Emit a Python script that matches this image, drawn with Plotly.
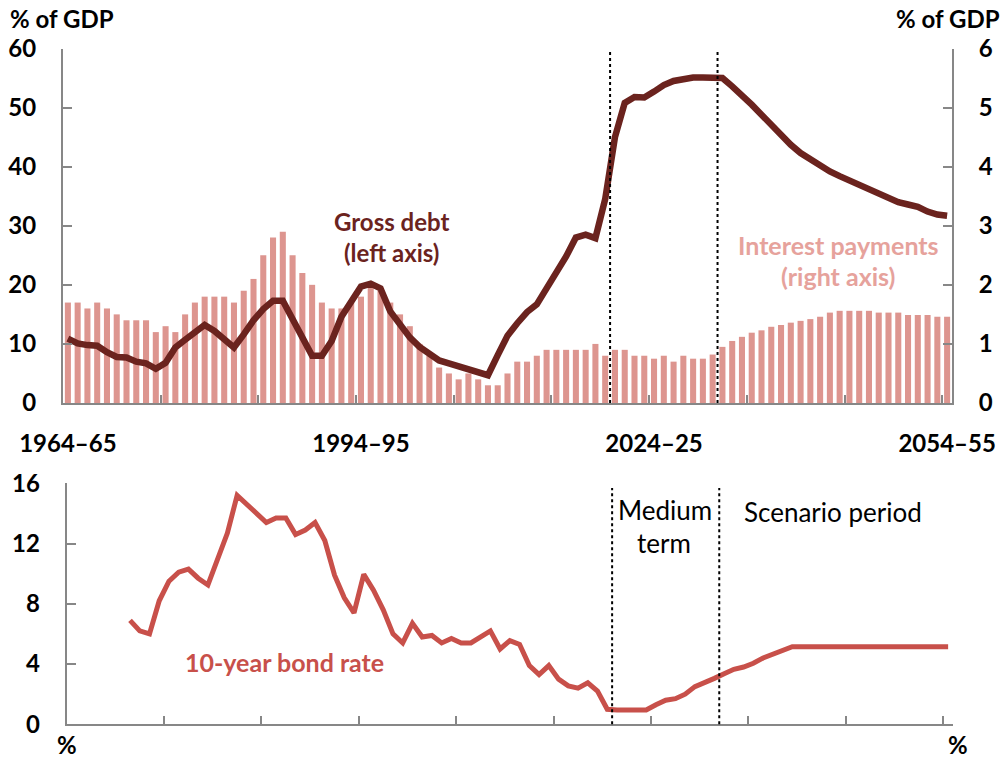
import plotly.graph_objects as go

# ---------------- data ----------------
years = list(range(1964, 2055))
categories = [f"{y}\u2013{(y + 1) % 100:02d}" for y in years]

interest_payments = [
    1.7, 1.7, 1.6, 1.7, 1.6, 1.5, 1.4, 1.4, 1.4, 1.2,
    1.3, 1.2, 1.5, 1.7, 1.8, 1.8, 1.8, 1.7, 1.9, 2.1,
    2.5, 2.8, 2.9, 2.5, 2.2, 2.0, 1.7, 1.6, 1.6, 1.7,
    1.8, 1.95, 1.9, 1.7, 1.5, 1.3, 1.0, 0.8, 0.6, 0.5,
    0.4, 0.5, 0.4, 0.3, 0.3, 0.5, 0.7, 0.7, 0.8, 0.9,
    0.9, 0.9, 0.9, 0.9, 1.0, 0.8, 0.9, 0.9, 0.8, 0.8,
    0.75, 0.8, 0.7, 0.8, 0.75, 0.75, 0.82, 0.95, 1.05, 1.12,
    1.19, 1.23, 1.29, 1.32, 1.36, 1.39, 1.42, 1.46, 1.53, 1.56,
    1.56, 1.56, 1.56, 1.53, 1.53, 1.53, 1.49, 1.49, 1.49, 1.46,
    1.46,
]

gross_debt = [
    10.9, 10.1, 9.8, 9.7, 8.6, 7.8, 7.7, 7.0, 6.7, 5.8,
    6.8, 9.4, 10.7, 12.0, 13.2, 12.2, 10.9, 9.4, 11.6, 14.0,
    15.9, 17.3, 17.3, 14.0, 10.8, 8.0, 8.0, 10.5, 14.6, 17.4,
    19.7, 20.2, 19.4, 15.5, 13.4, 11.1, 9.5, 8.5, 7.2, 6.7,
    6.2, 5.6, 5.2, 4.7, 8.1, 11.4, 13.5, 15.4, 16.7, 19.3,
    22.0, 24.8, 28.0, 28.5, 27.9, 34.5, 45.0, 50.8, 51.8, 51.7,
    52.7, 53.8, 54.5, 54.9, 55.1, 55.1, 55.1, 55.0, 53.6, 52.2,
    50.5, 48.8, 47.1, 45.3, 43.7, 42.3, 41.2, 40.2, 39.2, 38.4,
    37.7, 36.9, 36.1, 35.5, 34.8, 34.0, 33.6, 33.2, 32.4, 31.9,
    31.7,
]

bond_rate = [
    None, None, None, None, None, None, 6.9, 6.2, 6.0, 8.2,
    9.5, 10.1, 10.3, 9.7, 9.25, 10.9, 12.7, 15.2, 14.6, 13.9,
    13.4, 13.7, 13.7, 12.6, 12.9, 13.4, 12.2, 9.9, 8.4, 7.4,
    9.95, 8.9, 7.6, 6.0, 5.4, 6.7, 5.8, 5.9, 5.4, 5.7,
    5.4, 5.4, 5.8, 6.2, 5.0, 5.55, 5.3, 3.9, 3.3, 3.9,
    3.0, 2.55, 2.4, 2.75, 2.2, 1.0, 0.95, 0.95, 0.95, 0.95,
    1.3, 1.6, 1.7, 2.0, 2.5, 2.75, 3.05, 3.35, 3.65, 3.8,
    4.05, 4.4, 4.65, 4.95, 5.15, 5.15, 5.15, 5.15, 5.15, 5.15,
    5.15, 5.15, 5.15, 5.15, 5.15, 5.15, 5.15, 5.15, 5.15, 5.15,
    5.15,
]

labelled_categories = ["1964\u201365", "1994\u201395", "2024\u201325", "2054\u201355"]
tick_categories = categories[::10]
tick_text = [c if c in labelled_categories else "" for c in tick_categories]

# period boundaries (first year of medium term, first year of scenario period)
period_starts = ["2020\u201321", "2031\u201332"]

# ---------------- styles ----------------
FONT = "Lato"
BAR_COL = "#DD958F"
DEBT_COL = "#6B231E"
BOND_COL = "#C8504A"
AXIS_COL = "#878787"
TICKFONT = dict(family=FONT, size=24, color="black", weight="bold")

fig = go.Figure()

fig.add_trace(go.Bar(
    x=categories, y=interest_payments, xaxis="x", yaxis="y",
    marker=dict(color=BAR_COL, line=dict(width=0)), showlegend=False,
))
fig.add_trace(go.Scatter(
    x=categories, y=gross_debt, xaxis="x", yaxis="y2", mode="lines",
    line=dict(color=DEBT_COL, width=6.5), showlegend=False,
))
fig.add_trace(go.Scatter(
    x=categories, y=bond_rate, xaxis="x2", yaxis="y3", mode="lines",
    line=dict(color=BOND_COL, width=5), showlegend=False,
))

common_x = dict(
    type="category", categoryorder="array", categoryarray=categories,
    range=[-0.5, len(categories) - 0.5], tickson="boundaries",
    tickmode="array", tickvals=tick_categories, tickangle=0,
    ticks="inside", ticklen=8, tickwidth=2, tickcolor=AXIS_COL,
    showline=True, linecolor=AXIS_COL, linewidth=2,
    showgrid=False, zeroline=False, tickfont=TICKFONT, automargin=False,
)
common_y = dict(
    ticks="inside", ticklen=9, tickwidth=2, tickcolor=AXIS_COL,
    showline=True, linecolor=AXIS_COL, linewidth=2,
    showgrid=False, zeroline=False, tickfont=TICKFONT,
    ticklabelstandoff=20, automargin=False,
)

top_dom = [1 - 403 / 758, 1 - 48.5 / 758]
bot_dom = [1 - 724.3 / 758, 1 - 483.3 / 758]

fig.update_layout(
    width=1008, height=758,
    margin=dict(l=0, r=0, t=0, b=0, autoexpand=False),
    paper_bgcolor="white", plot_bgcolor="white",
    bargap=0.38,
    font=dict(family=FONT),
    xaxis=dict(common_x, domain=[63 / 1008, 952 / 1008], anchor="y",
               ticktext=tick_text, ticklabelstandoff=18),
    yaxis=dict(common_y, domain=top_dom, anchor="x", side="right",
               range=[0, 6], dtick=1),
    yaxis2=dict(common_y, overlaying="y", anchor="x", side="left",
                range=[0, 60], dtick=10),
    xaxis2=dict(common_x, domain=[66.7 / 1008, 953 / 1008], anchor="y3",
                showticklabels=False),
    yaxis3=dict(common_y, domain=bot_dom, anchor="x2", side="left",
                range=[0, 16], dtick=4),
    yaxis4=dict(common_y, overlaying="y3", anchor="x2", side="right",
                range=[0, 16], dtick=4),
)

# dotted period lines
for cat in period_starts:
    pos = categories.index(cat) - 0.5
    fig.add_shape(type="line", xref="x", yref="paper", x0=pos, x1=pos,
                  y0=1 - 403 / 758, y1=1 - 52 / 758,
                  line=dict(color="black", width=2, dash="dot"))
    fig.add_shape(type="line", xref="x2", yref="paper", x0=pos, x1=pos,
                  y0=1 - 724.3 / 758, y1=1 - 488 / 758,
                  line=dict(color="black", width=2, dash="dot"))


def note(text, x, y, color="black", size=24, bold=True, xanchor="center"):
    fig.add_annotation(
        text=text, xref="paper", yref="paper", x=x / 1008, y=1 - y / 758,
        xanchor=xanchor, yanchor="middle", showarrow=False,
        font=dict(family=FONT, size=size, color=color,
                  weight="bold" if bold else "normal"),
    )


note("% of GDP", 8, 18, xanchor="left")
note("% of GDP", 1002, 18, xanchor="right")
note("Gross debt", 391, 221, color=DEBT_COL, size=24)
note("(left axis)", 391, 252, color=DEBT_COL, size=24)
note("Interest payments", 838, 245, color="#E6A29C", size=25)
note("(right axis)", 838, 276, color="#E6A29C", size=25)
note("10-year bond rate", 284, 662, color=BOND_COL, size=25)
note("Medium", 665, 510, size=26, bold=False)
note("term", 664, 543, size=26, bold=False)
note("Scenario period", 833, 512, size=26, bold=False)
note("%", 67, 744)
note("%", 958, 744)

fig.write_html(
    "out.html",
    config={"displayModeBar": False},
    post_script="document.body.style.margin='0';document.body.style.overflow='hidden';",
)
